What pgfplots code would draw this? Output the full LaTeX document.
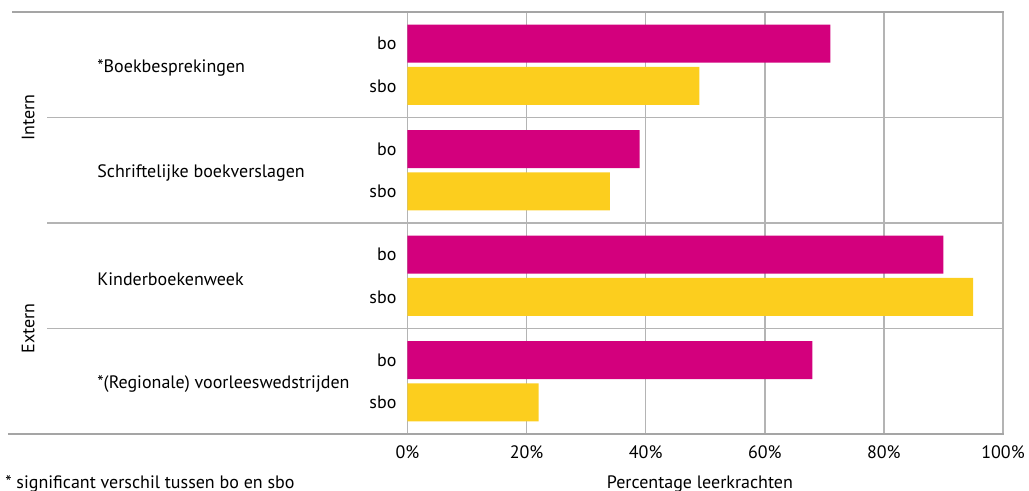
\documentclass[border=0pt]{standalone}
\usepackage{fontspec}
\setmainfont{PT Sans}
\usepackage{pgfplots}
\pgfplotsset{compat=1.18}
\definecolor{bo}{RGB}{211,0,125}
\definecolor{sbo}{RGB}{252,206,30}
\definecolor{gridgray}{RGB}{180,180,180}
\definecolor{framegray}{RGB}{165,165,165}

\begin{document}
\begin{tikzpicture}[font=\fontsize{9}{11}\selectfont]
\path[use as bounding box] (-203.75pt,-28.5pt) rectangle (310.75pt,217pt);
\begin{axis}[
  at={(0,0)}, anchor=south west,
  scale only axis, width=297.75pt, height=211pt,
  xmin=0, xmax=100, ymin=0, ymax=8,
  xbar, bar width=0.72, bar shift=0pt,
  axis line style={draw=none},
  major tick length=0pt,
  xtick={0,20,...,100},
  xticklabel={\pgfmathprintnumber{\tick}\%},
  xticklabel style={yshift=-2.5pt},
  /pgf/number format/assume math mode=true,
  xmajorgrids, grid style={gridgray, line width=0.75pt},
  ytick={0.6,1.4,2.6,3.4,4.6,5.4,6.6,7.4},
  yticklabels={sbo,bo,sbo,bo,sbo,bo,sbo,bo},
  yticklabel style={xshift=-2pt},
  clip=false,
]
\addplot[fill=bo, draw=none] coordinates {(71,7.4) (39,5.4) (90,3.4) (68,1.4)};
\addplot[fill=sbo, draw=none] coordinates {(49,6.6) (34,4.6) (95,2.6) (22,0.6)};

\draw[gridgray, line width=0.75pt] (axis cs:-60.5,2) -- (axis cs:100,2);
\draw[gridgray, line width=0.75pt] (axis cs:-60.5,4) -- (axis cs:100,4);
\draw[gridgray, line width=0.75pt] (axis cs:-60.5,6) -- (axis cs:100,6);
\draw[framegray, line width=1.1pt] (axis cs:-66.4,8) -- (axis cs:100.1,8);
\draw[framegray, line width=1.1pt] (axis cs:-67.1,0) -- (axis cs:100.1,0);

\begin{scope}[every node/.style={anchor=west, inner sep=0pt, yshift=-1.5pt}]
\node at (axis cs:-52.14,7) {*Boekbesprekingen};
\node at (axis cs:-52.14,5) {Schriftelijke boekverslagen};
\node at (axis cs:-52.14,3) {Kinderboekenweek};
\node at (axis cs:-52.14,1) {*(Regionale) voorleeswedstrijden};
\end{scope}
\node[rotate=90] at (axis cs:-63.7,6) {Intern};
\node[rotate=90] at (axis cs:-63.7,2) {Extern};
\node at (axis cs:49.1,-0.95) {Percentage leerkrachten};
\node[anchor=west, inner sep=0pt] at (axis cs:-67.6,-0.95) {* significant verschil tussen bo en sbo};
\end{axis}
\end{tikzpicture}
\end{document}
